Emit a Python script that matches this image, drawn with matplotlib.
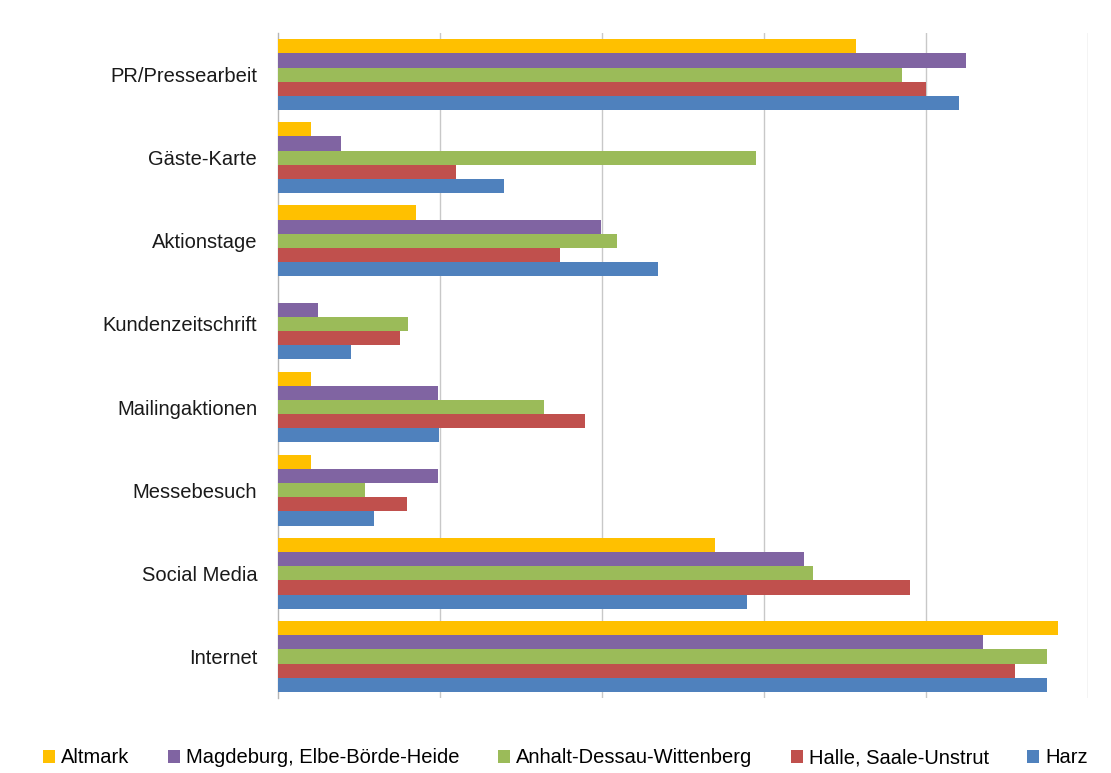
import matplotlib
matplotlib.use("Agg")
import matplotlib.pyplot as plt
import numpy as np
from matplotlib.patches import Patch

# Categories shown from top to bottom
categories = ["PR/Pressearbeit", "Gäste-Karte", "Aktionstage", "Kundenzeitschrift",
              "Mailingaktionen", "Messebesuch", "Social Media", "Internet"]

series_names = ["Altmark", "Magdeburg, Elbe-Börde-Heide", "Anhalt-Dessau-Wittenberg",
                "Halle, Saale-Unstrut", "Harz"]

altmark   = [71.4, 4.1, 17.0, 0.0, 4.1, 4.1, 54.0, 96.3]
magdeburg = [84.9, 7.8, 39.9, 4.9, 19.8, 19.8, 65.0, 87.0]
anhalt    = [77.0, 59.0, 41.9, 16.0, 32.8, 10.8, 66.0, 94.9]
halle     = [80.0, 22.0, 34.8, 15.1, 37.9, 15.9, 78.0, 91.0]
harz      = [84.1, 27.9, 46.9, 9.0, 19.9, 11.9, 57.9, 94.9]

series_values = [altmark, magdeburg, anhalt, halle, harz]
colors = ["#FFC000", "#8064A2", "#9BBB59", "#C0504D", "#4F81BD"]

label_font = ["Liberation Sans Narrow", "Liberation Sans", "DejaVu Sans"]

fig = plt.figure(figsize=(11.11, 7.73), dpi=100)
ax = fig.add_axes([0.2502, 0.097, 0.7291, 0.8603])

y = np.arange(len(categories))
n = len(series_names)
group = 0.85
h = group / n
for i, (vals, col) in enumerate(zip(series_values, colors)):
    ax.barh(y + (i - (n - 1) / 2) * h, vals, height=h, color=col, edgecolor="none", zorder=3)

ax.set_xlim(0, 100)
ax.set_ylim(len(categories) - 0.5, -0.5)
ax.set_xticks([20, 40, 60, 80, 100])
ax.set_xticklabels([])
ax.tick_params(axis="x", length=0)
ax.grid(axis="x", color="#c8c8c8", linewidth=1.0, zorder=0)

ax.set_yticks(y)
ax.set_yticklabels(categories, fontsize=14.5, family=label_font, color="#1a1a1a")
ax.tick_params(axis="y", length=0, pad=15)

for side in ["top", "right", "bottom"]:
    ax.spines[side].set_visible(False)
ax.spines["left"].set_color("#b5b5b5")
ax.spines["left"].set_linewidth(1.0)

handles = [Patch(facecolor=c, edgecolor="none") for c in colors]
fig.legend(handles, series_names, loc="center", bbox_to_anchor=(0.509, 0.0195), ncol=5,
           frameon=False, handlelength=0.6, handleheight=0.6, handletextpad=0.3,
           columnspacing=1.9, prop={"family": label_font, "size": 14.5})

fig.savefig("out.png", dpi=100, facecolor="white")
